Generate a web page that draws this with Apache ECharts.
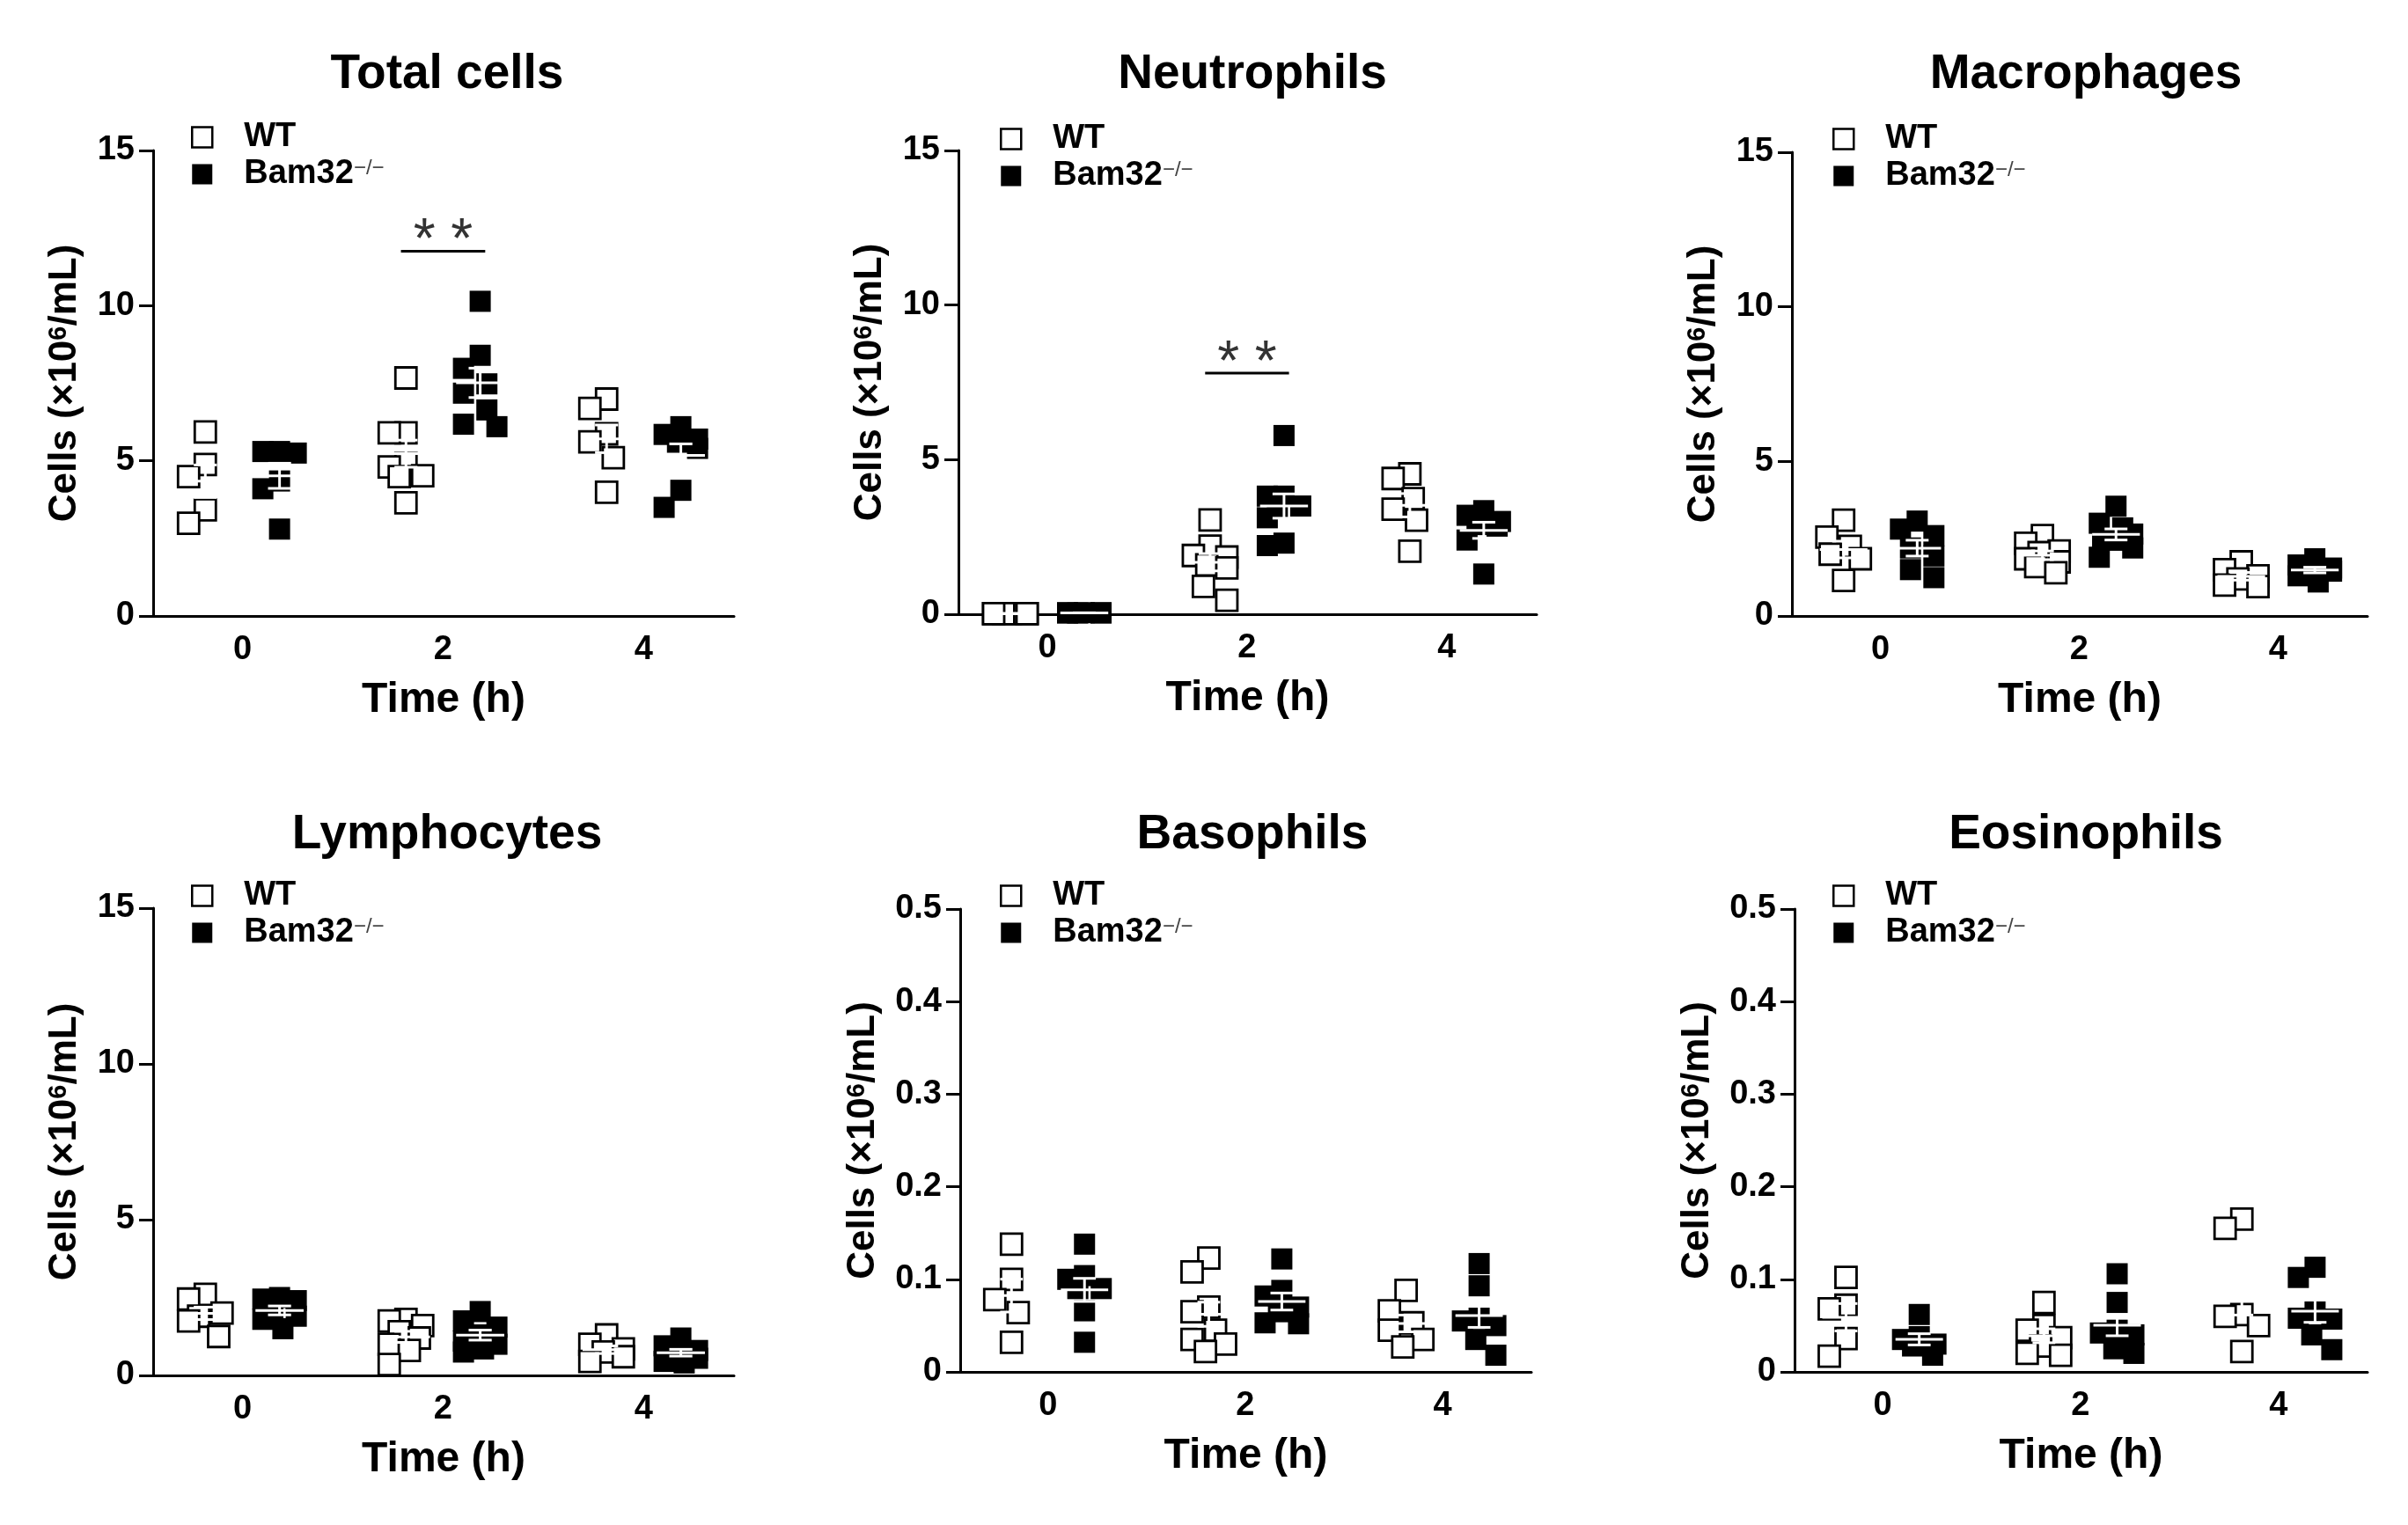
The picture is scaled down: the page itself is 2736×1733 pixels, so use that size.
<!DOCTYPE html>
<html><head><meta charset="utf-8">
<script src="https://cdn.jsdelivr.net/npm/echarts@6/dist/echarts.min.js"></script>
<style>html,body{margin:0;padding:0;background:#fff}#c{width:2736px;height:1733px}</style>
</head><body><div id="c"></div>
<script>
// ---------- data ----------
const timePoints = [0, 2, 4];
const panelTitles = ['Total cells', 'Neutrophils', 'Macrophages', 'Lymphocytes', 'Basophils', 'Eosinophils'];
const yMaxValues = [15, 15, 15, 15, 0.5, 0.5];
const yIntervals = [5, 5, 5, 5, 0.1, 0.1];
const groupNames = ['WT', 'Bam32'];

const totalWT = [[5.93,4.88,4.49,3.42,2.99],[7.67,5.9,5.9,4.91,4.8,4.52,4.49,3.65],[6.99,6.69,5.87,5.61,5.1,3.99]];
const totalBam = [[5.3,5.3,5.25,4.35,4.1,2.8],[10.14,8.4,7.98,7.48,7.18,6.64,6.18,6.1],[6.1,5.85,5.7,5.6,5.4,4.05,3.5]];
const neutWT = [[0.02,0.02,0.02,0.02,0.02,0.02],[3.05,2.2,1.9,1.85,1.6,1.5,0.9,0.45],[4.54,4.39,3.74,3.4,3.04,2.04]];
const neutBam = [[0.05,0.04,0.05,0.04,0.05,0.04],[5.78,3.82,3.82,3.5,3.43,3.12,2.3,2.22],[3.35,3.2,3.0,2.9,2.85,2.4,1.3]];
const macroWT = [[3.1,2.55,2.25,2.0,1.85,1.15],[2.6,2.35,2.1,2.05,1.85,1.75,1.6,1.4],[1.75,1.5,1.3,1.2,1.0,0.95]];
const macroBam = [[3.07,2.81,2.6,2.2,1.94,1.5,1.24],[3.55,3.0,2.85,2.65,2.5,2.45,2.2,1.9],[1.85,1.65,1.55,1.5,1.45,1.3,1.1]];
const lymphWT = [[2.6,2.45,2.0,1.9,1.75,1.25],[1.8,1.75,1.6,1.4,1.2,1.0,0.8,0.35],[1.3,1.0,0.85,0.75,0.6,0.45]];
const lymphBam = [[2.5,2.45,2.4,2.05,1.9,1.8,1.5],[2.05,1.75,1.55,1.3,1.1,1.0,0.85,0.75],[1.2,0.95,0.8,0.75,0.55,0.45,0.4]];
const basoWT = [[0.138,0.1,0.078,0.064,0.032],[0.123,0.108,0.07,0.065,0.045,0.035,0.03,0.022],[0.088,0.066,0.053,0.045,0.035,0.027]];
const basoBam = [[0.138,0.104,0.1,0.09,0.09,0.066,0.032],[0.122,0.088,0.082,0.07,0.065,0.053,0.052],[0.117,0.093,0.058,0.055,0.05,0.035,0.018]];
const eosWT = [[0.102,0.072,0.068,0.036,0.017],[0.075,0.05,0.045,0.037,0.028,0.02,0.018],[0.165,0.155,0.062,0.06,0.05,0.022]];
const eosBam = [[0.062,0.038,0.035,0.03,0.028,0.018],[0.106,0.075,0.045,0.042,0.04,0.025,0.02],[0.113,0.102,0.065,0.058,0.057,0.04,0.024]];

const significance = [
  { panel: 0, time: 2, y: 11.75, text: '* *' },
  { panel: 1, time: 2, y: 7.8, text: '* *' }
];

// ---------- layout ----------
const panelData = [[totalWT,totalBam],[neutWT,neutBam],[macroWT,macroBam],[lymphWT,lymphBam],[basoWT,basoBam],[eosWT,eosBam]];
const layouts = [
  { left: 174,  top: 171,  width: 660, height: 529, tx: 503,  ty: 52,  lx: 212,  ly: 132 },
  { left: 1089, top: 171,  width: 657, height: 527, tx: 1418, ty: 52,  lx: 1131, ly: 134 },
  { left: 2036, top: 173,  width: 654, height: 527, tx: 2365, ty: 52,  lx: 2077, ly: 134 },
  { left: 174,  top: 1032, width: 660, height: 531, tx: 503,  ty: 916, lx: 212,  ly: 994 },
  { left: 1091, top: 1033, width: 649, height: 526, tx: 1418, ty: 916, lx: 1131, ly: 994 },
  { left: 2039, top: 1033, width: 651, height: 526, tx: 2365, ty: 916, lx: 2077, ly: 994 }
];
const X_MIN = -0.89, X_MAX = 4.9, GROUP_OFF = 0.37;
const FONT = '"Liberation Sans", Arial, Helvetica, sans-serif';
const MS = 24;

function swarm(values, center, pxX, pxY) {
  const maxOff = 19, step = 3.8;
  const placed = [];
  const order = values.map((v, i) => i).sort((a, b) => values[b] - values[a]);
  const res = new Array(values.length);
  for (const i of order) {
    const yp = values[i] * pxY;
    let best = 0, bestScore = Infinity;
    for (let k = 0; k <= Math.round(maxOff / step); k++) {
      for (const sg of (k === 0 ? [1] : [-1, 1])) {
        const off = sg * k * step;
        let s = Math.abs(off) * 0.5;
        for (const p of placed) {
          const dx = Math.abs(off - p.x), dy = Math.abs(yp - p.y);
          s += Math.max(0, MS - dx) * Math.max(0, MS - dy);
        }
        if (s < bestScore - 1e-9) { bestScore = s; best = off; }
      }
    }
    placed.push({ x: best, y: yp });
    res[i] = [center + best / pxX, values[i]];
  }
  return res;
}
function meanSem(arr) {
  const n = arr.length, m = arr.reduce((a, b) => a + b, 0) / n;
  const sd = Math.sqrt(arr.reduce((a, b) => a + (b - m) * (b - m), 0) / (n - 1));
  return [m, sd / Math.sqrt(n)];
}

const supStyle = { fontSize: 24, fontWeight: 'normal', fontFamily: FONT, color: '#444', verticalAlign: 'top' };
const option = {
  backgroundColor: '#fff', animation: false,
  title: [], grid: [], xAxis: [], yAxis: [], legend: [], series: []
};

layouts.forEach((L, i) => {
  const yMax = yMaxValues[i];
  const pxX = L.width / (X_MAX - X_MIN), pxY = L.height / yMax;
  option.title.push({ text: panelTitles[i], left: L.tx, top: L.ty, textAlign: 'center',
    textStyle: { fontSize: 55, fontWeight: 'bold', fontFamily: FONT, color: '#000' } });
  option.grid.push({ left: L.left, top: L.top, width: L.width, height: L.height, containLabel: false });
  option.xAxis.push({ gridIndex: i, type: 'value', min: X_MIN, max: X_MAX,
    axisLine: { show: true, onZero: false, lineStyle: { color: '#000', width: 3 } },
    axisTick: { show: false }, splitLine: { show: false },
    axisLabel: { customValues: timePoints, fontSize: 38, fontWeight: 'bold', fontFamily: FONT, color: '#000', margin: 20 },
    name: 'Time (h)', nameLocation: 'middle', nameGap: 72,
    nameTextStyle: { fontSize: 48, fontWeight: 'bold', fontFamily: FONT, color: '#000' } });
  option.yAxis.push({ gridIndex: i, type: 'value', min: 0, max: yMax, interval: yIntervals[i],
    axisLine: { show: true, onZero: false, lineStyle: { color: '#000', width: 3 } },
    axisTick: { show: true, length: 16, lineStyle: { color: '#000', width: 3 } },
    splitLine: { show: false },
    axisLabel: { fontSize: 38, fontWeight: 'bold', fontFamily: FONT, color: '#000', margin: 21 },
    name: 'Cells (×10{sup|6}/mL)', nameLocation: 'middle', nameGap: yMax < 1 ? 88 : 78, nameRotate: 90,
    nameTextStyle: { fontSize: 44, fontWeight: 'bold', fontFamily: FONT, color: '#000',
      rich: { sup: Object.assign({}, supStyle, { fontSize: 29, fontWeight: 'bold', color: '#000' }) } } });
  option.legend.push({ left: L.lx, top: L.ly, orient: 'vertical', itemGap: 4, itemWidth: 23, itemHeight: 23,
    icon: 'rect', selectedMode: false,
    data: [
      { name: 'WT', itemStyle: { color: '#fff', borderColor: '#000', borderWidth: 2.5 } },
      { name: 'Bam32', itemStyle: { color: '#000', borderWidth: 0 } }
    ],
    formatter: n => n === 'Bam32' ? 'Bam32{sup|−/−}' : n,
    textStyle: { fontSize: 38, fontWeight: 'bold', fontFamily: FONT, color: '#000', padding: [0, 0, 0, 31],
      rich: { sup: supStyle } } });

  const [wt, bam] = panelData[i];
  const errData = [];
  [wt, bam].forEach((groups, g) => {
    const pts = [];
    groups.forEach((vals, t) => {
      const c = timePoints[t] + (g === 0 ? -GROUP_OFF : GROUP_OFF);
      swarm(vals, c, pxX, pxY).forEach(p => pts.push(p));
      const [m, se] = meanSem(vals);
      errData.push([c, m, se]);
    });
    option.series.push({ type: 'scatter', name: groupNames[g], xAxisIndex: i, yAxisIndex: i, clip: false,
      symbol: 'rect', symbolSize: MS, silent: true, z: 2,
      itemStyle: g === 0 ? { color: '#fff', borderColor: '#000', borderWidth: 2.8, opacity: 1 }
                         : { color: '#000', borderWidth: 0, opacity: 1 },
      data: pts });
  });
  option.series.push({ type: 'custom', xAxisIndex: i, yAxisIndex: i, z: 5, silent: true, clip: false,
    data: errData,
    renderItem: (params, api) => {
      const x = api.value(0), m = api.value(1), se = api.value(2);
      const seg = (a, b) => ({ type: 'line', shape: { x1: a[0], y1: a[1], x2: b[0], y2: b[1] },
        style: { stroke: '#fff', lineWidth: 3, blend: 'difference' } });
      const hw = 0.24, cw = 0.115;
      return { type: 'group', children: [
        seg(api.coord([x - hw, m]), api.coord([x + hw, m])),
        seg(api.coord([x, m - se]), api.coord([x, m + se])),
        seg(api.coord([x - cw, m + se]), api.coord([x + cw, m + se])),
        seg(api.coord([x - cw, m - se]), api.coord([x + cw, m - se]))
      ] };
    } });
  const sig = significance.filter(s => s.panel === i);
  if (sig.length) {
    option.series.push({ type: 'custom', xAxisIndex: i, yAxisIndex: i, z: 6, silent: true, clip: false,
      data: sig.map(s => [s.time, s.y]),
      renderItem: (params, api) => {
        const x = api.value(0), y = api.value(1);
        const a = api.coord([x - 0.42, y]), b = api.coord([x + 0.42, y]), c = api.coord([x, y]);
        return { type: 'group', children: [
          { type: 'line', shape: { x1: a[0], y1: a[1], x2: b[0], y2: b[1] }, style: { stroke: '#000', lineWidth: 3 } },
          { type: 'text', x: c[0], y: c[1] + 22, style: { text: sig[params.dataIndex].text, fontSize: 64,
            fontFamily: FONT, fill: '#333', align: 'center', verticalAlign: 'bottom' } }
        ] };
      } });
  }
});

const chart = echarts.init(document.getElementById('c'), null, { renderer: 'canvas' });
chart.setOption(option);
</script>
</body></html>
